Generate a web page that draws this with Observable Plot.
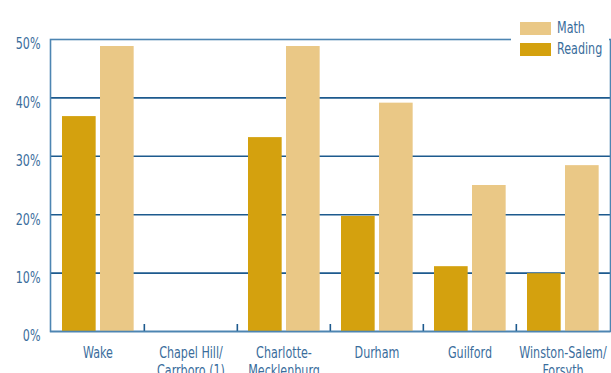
<!DOCTYPE html>
<html>
<head>
<meta charset="utf-8">
<script src="https://cdn.jsdelivr.net/npm/d3@7"></script>
<script src="https://cdn.jsdelivr.net/npm/@observablehq/plot@0.6"></script>
<style>
  html, body { margin: 0; padding: 0; background: #fff; }
  #chart { position: relative; width: 611px; height: 373px; }
  .key {
    position: absolute; left: 511px; top: 16px; width: 98px; height: 42px;
    background: #fff; font-family: "DejaVu Sans Condensed", "Liberation Sans Narrow", sans-serif;
    font-size: 15.5px; color: #3a6d9c;
  }
  .key .row { position: absolute; left: 9px; height: 14px; display: flex; align-items: center; }
  .key .sw { width: 31px; height: 13px; margin-right: 6px; flex: none; }
  .key span { display: inline-block; transform: scaleX(0.8); transform-origin: left center; white-space: nowrap; }
</style>
</head>
<body>
<div id="chart"></div>
<script>
// Share of students at or above grade level, by district
const districts = ["Wake", "Chapel Hill/Carrboro", "Charlotte-Mecklenburg", "Durham", "Guilford", "Winston-Salem/Forsyth"];
const districtLabels = ["Wake", "Chapel Hill/\nCarrboro (1)", "Charlotte-\nMecklenburg", "Durham", "Guilford", "Winston-Salem/\nForsyth"];
const reading = [0.368, null, 0.332, 0.197, 0.111, 0.099];
const math = [0.488, null, 0.488, 0.391, 0.250, 0.284];
const series = ["Math", "Reading"];
const seriesColors = ["#eac886", "#d4a10e"];
const yTicks = [0, 0.1, 0.2, 0.3, 0.4, 0.5];

const W = 611, H = 373, mL = 50, mR = 1, mT = 39, mB = 42;
const band = (W - mL - mR) / districts.length;
const narrow = 0.8; // horizontal squeeze giving a condensed face

const rows = (vals) => districts.map((d, i) => ({district: d, value: vals[i]})).filter(r => r.value != null);
const labelOf = new Map(districts.map((d, i) => [d, districtLabels[i]]));

const dark = "#1d5a8e";
const light = "#4d85b2";

const chart = Plot.plot({
  width: W, height: H,
  marginLeft: mL, marginRight: mR, marginTop: mT, marginBottom: mB,
  style: {fontFamily: "'DejaVu Sans Condensed', 'Liberation Sans Narrow', sans-serif", fontSize: "15.5px", color: "#3a6d9c", background: "#fff"},
  x: {type: "band", domain: districts, padding: 0},
  y: {domain: [0, 0.5]},
  marks: [
    Plot.ruleY(yTicks.slice(1, -1), {stroke: dark, strokeWidth: 1.6}),
    Plot.ruleY([0], {stroke: "#3873a4", strokeWidth: 1.6}),
    Plot.ruleX(districts.slice(1), {x: d => d, y1: 0, y2: 0.012, stroke: dark, strokeWidth: 1.6, dx: -band / 2}),
    Plot.barY(rows(reading), {x: "district", y: "value", fill: seriesColors[1], insetLeft: 11, insetRight: band - 45}),
    Plot.barY(rows(math), {x: "district", y: "value", fill: seriesColors[0], insetLeft: 49, insetRight: band - 83}),
    Plot.frame({stroke: light, strokeWidth: 1.6}),
    Plot.axisY({ticks: yTicks, tickFormat: d3.format(".0%"), tickSize: 0, tickPadding: 10, dy: 5, label: null}),
    Plot.axisX({tickSize: 0, tickPadding: 13, tickFormat: d => labelOf.get(d), lineHeight: 1.2, label: null})
  ]
});

// squeeze every axis label around its own anchor
d3.select(chart).selectAll("text").each(function () {
  const t = this.getAttribute("transform") || "";
  this.setAttribute("transform", `${t} scale(${narrow},1)`.trim());
});

const root = document.getElementById("chart");
root.appendChild(chart);

// key in the top-right corner of the plot area
const key = document.createElement("div");
key.className = "key";
series.forEach((s, i) => {
  const row = document.createElement("div");
  row.className = "row";
  row.style.top = (5 + i * 21) + "px";
  const sw = document.createElement("div");
  sw.className = "sw";
  sw.style.background = seriesColors[i];
  const t = document.createElement("span");
  t.textContent = s;
  row.appendChild(sw);
  row.appendChild(t);
  key.appendChild(row);
});
root.appendChild(key);
</script>
</body>
</html>
